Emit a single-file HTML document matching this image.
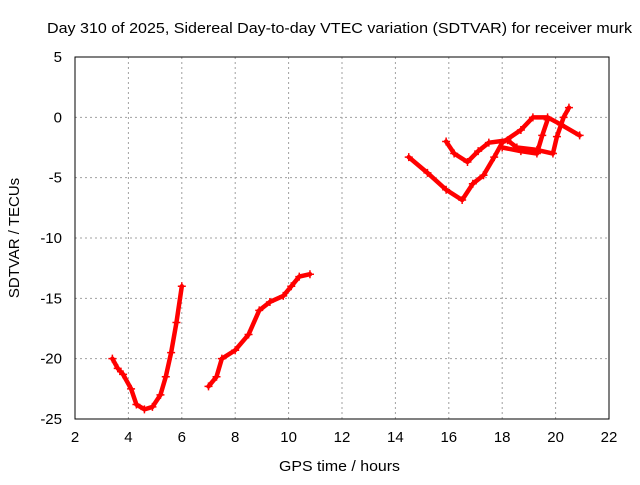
<!DOCTYPE html>
<html><head><meta charset="utf-8"><style>
body{margin:0;background:#fff}
text{font-family:"Liberation Sans",sans-serif;font-size:15px;fill:#000}
</style></head><body>
<svg id="c" width="640" height="480">
<rect x="0" y="0" width="640" height="480" fill="#fff"/>
<text x="339.5" y="33" text-anchor="middle" textLength="585" lengthAdjust="spacingAndGlyphs">Day 310 of 2025, Sidereal Day-to-day VTEC variation (SDTVAR) for receiver murk</text>
<text x="339.5" y="471" text-anchor="middle" textLength="121" lengthAdjust="spacingAndGlyphs">GPS time / hours</text>
<text transform="translate(19,238) rotate(-90)" text-anchor="middle">SDTVAR / TECUs</text>
<g id="grid"></g><g id="ticks"></g><g id="series"></g>
<rect x="75" y="57" width="534" height="362" fill="none" stroke="#000"/>
</svg>
<script>
const xTicks=[2,4,6,8,10,12,14,16,18,20,22];
const yTicks=[5,0,-5,-10,-15,-20,-25];
const segA_h=[3.4,3.6,3.8,4.1,4.3,4.6,4.9,5.2,5.4,5.6,5.8,6.0];
const segA_v=[-20,-20.8,-21.3,-22.5,-23.8,-24.2,-24,-23,-21.5,-19.5,-17,-14];
const segB_h=[7.0,7.3,7.5,8.0,8.5,8.9,9.3,9.8,10.1,10.4,10.8];
const segB_v=[-22.3,-21.5,-20,-19.3,-18,-16,-15.3,-14.8,-14,-13.2,-13];
const segC_h=[14.5,15.2,15.9,16.5,16.9,17.3,17.7,18.0,18.7,19.15,19.7,20.2,20.9];
const segC_v=[-3.3,-4.6,-6,-6.85,-5.5,-4.8,-3.3,-2.1,-1.05,0,0,-0.6,-1.5];
const segD_h=[15.9,16.2,16.7,17.1,17.5,18.2,18.55,19.3,19.9,20.05,20.3,20.5];
const segD_v=[-2.0,-3.0,-3.7,-2.8,-2.1,-1.9,-2.5,-2.7,-3.0,-1.6,0,0.8];
const segE_h=[18.0,18.7,19.3,19.5,19.7];
const segE_v=[-2.5,-2.8,-3.0,-1.5,-0.2];
const X=h=>75+(h-2)*534/20, Y=v=>57+(5-v)*362/30;
const NS="http://www.w3.org/2000/svg";
function mk(t,a,p){const e=document.createElementNS(NS,t);for(const k in a)e.setAttribute(k,a[k]);p.appendChild(e);return e;}
const g=document.getElementById('grid'),tk=document.getElementById('ticks'),s=document.getElementById('series');
xTicks.forEach(t=>{const x=X(t);
 if(t>2&&t<22){const l=mk('line',{x1:x,x2:x,y1:57,y2:419,stroke:'#a0a0a0','stroke-dasharray':'2,3'},g);
 }
 const e=mk('text',{x:x,y:442,'text-anchor':'middle'},tk);e.textContent=t;
 });
yTicks.forEach(t=>{const y=Y(t);
 if(t<5&&t>-25){const l=mk('line',{x1:75,x2:609,y1:y,y2:y,stroke:'#a0a0a0','stroke-dasharray':'2,3'},g);
 }
 const e=mk('text',{x:62,y:y+5,'text-anchor':'end'},tk);e.textContent=t;
 });
[[segA_h,segA_v],[segB_h,segB_v],[segC_h,segC_v],[segD_h,segD_v],[segE_h,segE_v]].forEach(([hs,vs],i)=>{
 const pts=hs.map((h,j)=>X(h)+','+Y(vs[j])).join(' ');
 const p=mk('polyline',{points:pts,fill:'none',stroke:'#f00','stroke-width':4.5,'stroke-linejoin':'round','stroke-linecap':'round'},s);
 
 
 hs.forEach((h,j)=>{const x=X(h),y=Y(vs[j]);
  const m=mk('path',{d:`M${x-4},${y}H${x+4}M${x},${y-4}V${y+4}`,stroke:'#f00','stroke-width':1.5},s);
  
  });
});
</script>
</body></html>
